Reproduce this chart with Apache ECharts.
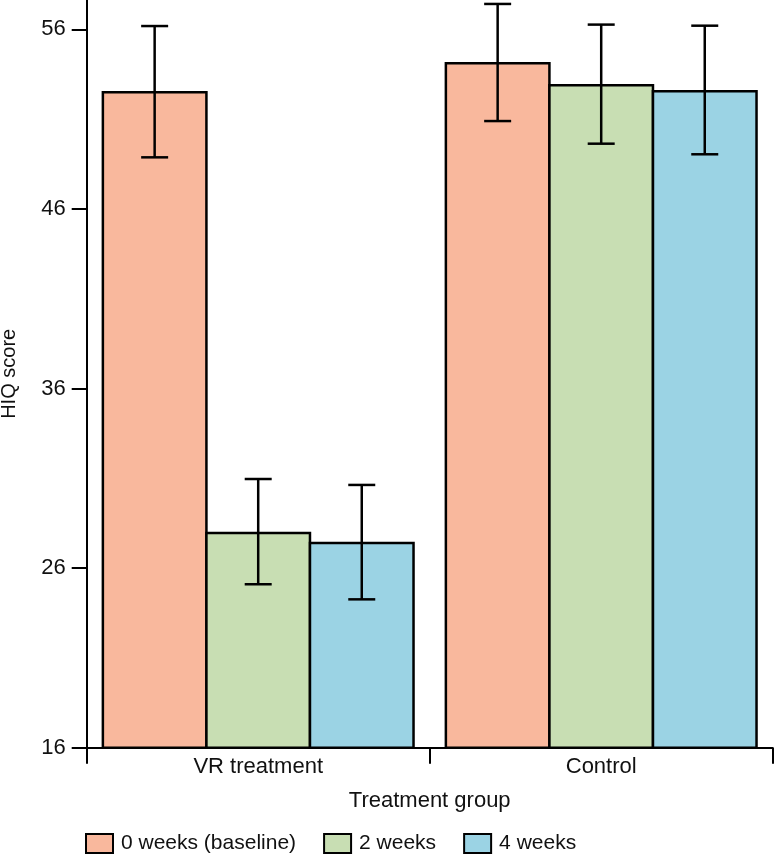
<!DOCTYPE html>
<html>
<head>
<meta charset="utf-8">
<script src="https://cdn.jsdelivr.net/npm/echarts@6/dist/echarts.min.js"></script>
<style>html,body{margin:0;padding:0;background:#fff}#c{width:775px;height:856px}</style>
</head>
<body>
<div id="c"></div>
<script>
const categories = ['VR treatment', 'Control'];
const seriesNames = ['0 weeks (baseline)', '2 weeks', '4 weeks'];
const week0 = [52.56, 54.18];
const week2 = [28.03, 52.95];
const week4 = [27.47, 52.62];
const week0Low = [48.87, 50.89];
const week0High = [56.18, 57.41];
const week2Low = [25.10, 49.63];
const week2High = [30.96, 56.26];
const week4Low = [24.26, 49.04];
const week4High = [30.63, 56.20];
const yTicks = [16, 26, 36, 46, 56];
const colors = ['#F9B89D', '#C8DEB3', '#9BD3E4'];

const values = [week0, week2, week4];
const lows = [week0Low, week2Low, week4Low];
const highs = [week0High, week2High, week4High];
const catGap = 0.087;
const lw = 2.5;
const font = 'Liberation Sans';
const gridLeft = 86.7, gridRight = 2.3;
const bandW = (775 - gridLeft - gridRight) / categories.length;
const totalW = bandW * (1 - catGap);
const barW = (totalW + 2 * lw) / 3;
const gapPct = -(lw / barW) * 100;

const series = [];
values.forEach((v, i) => {
  series.push({
    name: seriesNames[i],
    type: 'bar',
    data: v,
    barGap: gapPct + '%',
    barCategoryGap: (catGap * 100) + '%',
    itemStyle: { color: colors[i], borderColor: '#000', borderWidth: lw },
    z: 2
  });
});
values.forEach((v, i) => {
  series.push({
    type: 'custom',
    name: 'err' + i,
    z: 5,
    data: categories.map((c, k) => [k, lows[i][k], highs[i][k]]),
    renderItem: function (params, api) {
      const k = api.value(0);
      const band = api.size([1, 0])[0];
      const step = (band * (1 - catGap) - lw) / 3;
      const center = api.coord([k, 0])[0];
      const x = center + (i - 1) * step;
      const lo = api.coord([k, api.value(1)])[1];
      const hi = api.coord([k, api.value(2)])[1];
      const cap = 13.5;
      const st = { stroke: '#000', lineWidth: 2.5, fill: null };
      return {
        type: 'group',
        children: [
          { type: 'line', shape: { x1: x, y1: lo, x2: x, y2: hi }, style: st },
          { type: 'line', shape: { x1: x - cap, y1: lo, x2: x + cap, y2: lo }, style: st },
          { type: 'line', shape: { x1: x - cap, y1: hi, x2: x + cap, y2: hi }, style: st }
        ]
      };
    }
  });
});

const chart = echarts.init(document.getElementById('c'), null, { renderer: 'canvas' });
chart.setOption({
  animation: false,
  textStyle: { fontFamily: font },
  grid: { left: gridLeft, right: gridRight, top: 0, bottom: 108.3, containLabel: false, outerBoundsMode: 'none' },
  legend: {
    data: seriesNames,
    left: 80,
    top: 828,
    icon: 'rect',
    itemWidth: 27,
    itemHeight: 19,
    itemGap: 27,
    itemStyle: { borderColor: '#000', borderWidth: 2 },
    textStyle: { fontSize: 21, color: '#111', fontFamily: font, padding: [0, 0, 0, 3] }
  },
  xAxis: {
    type: 'category',
    data: categories,
    name: 'Treatment group',
    nameLocation: 'middle',
    nameGap: 42,
    nameTextStyle: { fontSize: 22, color: '#111', fontFamily: font },
    axisLine: { lineStyle: { color: '#000', width: 2 } },
    axisTick: { show: true, length: 16, lineStyle: { color: '#000', width: 2 } },
    axisLabel: { fontSize: 22, color: '#111', margin: 8, fontFamily: font },
    splitLine: { show: false }
  },
  yAxis: {
    type: 'value',
    min: 16,
    max: 57.63,
    interval: 10,
    name: 'HIQ score',
    nameLocation: 'middle',
    nameGap: 67,
    nameTextStyle: { fontSize: 20, color: '#111', fontFamily: font },
    axisLine: { show: true, lineStyle: { color: '#000', width: 2 } },
    axisTick: { show: true, length: 15, customValues: yTicks, lineStyle: { color: '#000', width: 2 } },
    axisLabel: { fontSize: 22, color: '#111', margin: 21, customValues: yTicks, fontFamily: font },
    splitLine: { show: false }
  },
  series: series
});
</script>
</body>
</html>
